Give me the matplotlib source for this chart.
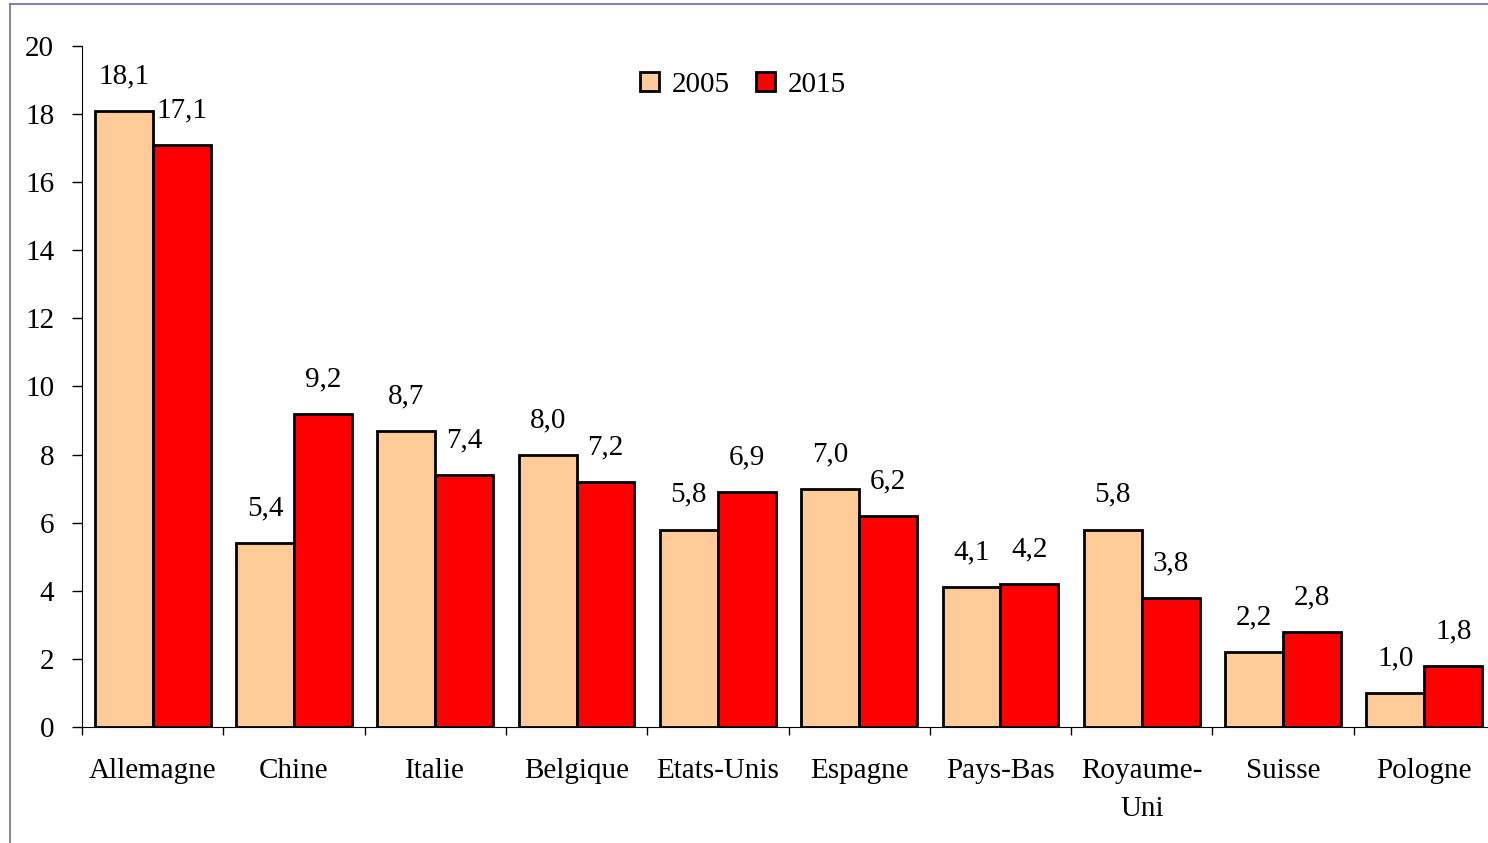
import numpy as np
import matplotlib
matplotlib.use("Agg")
import matplotlib.pyplot as plt
from matplotlib.lines import Line2D

pays = ["Allemagne", "Chine", "Italie", "Belgique", "Etats-Unis", "Espagne",
        "Pays-Bas", "Royaume-\nUni", "Suisse", "Pologne"]
v2005 = [18.1, 5.4, 8.7, 8.0, 5.8, 7.0, 4.1, 5.8, 2.2, 1.0]
v2015 = [17.1, 9.2, 7.4, 7.2, 6.9, 6.2, 4.2, 3.8, 2.8, 1.8]

plt.rcParams['font.family'] = ['Liberation Serif', 'DejaVu Serif']
fig = plt.figure(figsize=(14.88, 8.43), dpi=100)
ax = fig.add_axes([82/1488, 116/843, 1413/1488, 681/843])

x = np.arange(len(pays))
w = 0.41
fs = 21
b1 = ax.bar(x - w/2, v2005, w, color='#FFCC99', edgecolor='black', linewidth=2, label='2005')
b2 = ax.bar(x + w/2, v2015, w, color='#FF0000', edgecolor='black', linewidth=2, label='2015')

for bars, vals in ((b1, v2005), (b2, v2015)):
    for r, v in zip(bars, vals):
        ax.annotate(f"{v:.1f}".replace('.', ','), (r.get_x() + r.get_width()/2, v),
                    xytext=(0, 25), textcoords='offset points', ha='center', va='center',
                    fontsize=fs)

ax.set_xlim(-0.5, len(pays) - 0.5)
ax.set_ylim(0, 20)
ax.set_yticks(np.arange(0, 21, 2))
ax.set_xticks(x)
ax.set_xticklabels(pays, fontsize=fs, linespacing=1.6)
ax.set_xticks(np.arange(-0.5, len(pays), 1), minor=True)
ax.tick_params(axis='x', which='major', length=0, pad=22)
ax.tick_params(axis='x', which='minor', length=6, direction='out', width=1)
ax.tick_params(axis='y', length=7, direction='out', width=1, labelsize=fs, pad=13)
ax.spines['top'].set_visible(False)
ax.spines['right'].set_visible(False)

ax.legend(loc='center', bbox_to_anchor=(743/1488, 1 - 85/843), bbox_transform=fig.transFigure,
          ncol=2, frameon=False, fontsize=fs, handlelength=0.65, handleheight=0.65,
          handletextpad=0.45, columnspacing=0.9)

frame = '#6B6BAE'
fig.add_artist(Line2D([10/1488, 1], [1 - 4/843, 1 - 4/843], color=frame, lw=1.2))
fig.add_artist(Line2D([10/1488, 10/1488], [0, 1 - 4/843], color=frame, lw=1.2))

fig.savefig("out.png", dpi=100)
